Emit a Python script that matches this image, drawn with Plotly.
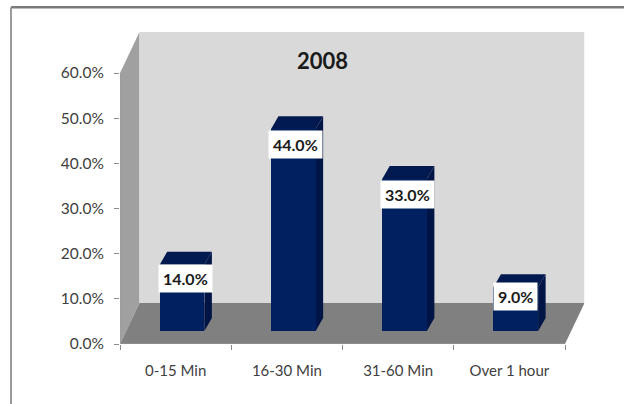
import plotly.graph_objects as go

categories = ["0-15 Min", "16-30 Min", "31-60 Min", "Over 1 hour"]
values = [14.0, 44.0, 33.0, 9.0]
y_ticks = [0, 10, 20, 30, 40, 50, 60]
title_text = "2008"

W, H = 624, 404
AX_L, AX_R, AX_B, AX_T = 120, 565, 344, 73
N = len(categories)
PX_X = (AX_R - AX_L) / N      # pixels per category
PX_Y = (AX_B - AX_T) / 60     # pixels per percent unit
# 3D illusion, in axis units
DEPTH_X = 19.5 / PX_X
DEPTH_Y = 41 / PX_Y
BASE = 13 / PX_Y
TOP_LIFT = 3 / PX_Y
BAR_W = 44.7 / PX_X
BAR_SHIFT = 6.4 / PX_X
SIDE_X = 7.5 / PX_X
SIDE_Y = 13 / PX_Y
XMAX = N + DEPTH_X
YMAX = 60 + DEPTH_Y
LABEL_DX = [3, 2, 3, 0]       # pixel nudges of the value labels
LABEL_DY = [13.5, 15.5, 16, 9]


def poly(pts, color):
    path = "M" + "L".join(f"{x},{y}" for x, y in pts) + "Z"
    return dict(type="path", path=path, fillcolor=color, line=dict(width=0),
                xref="x", yref="y", layer="below")


shapes = []
# left wall, back wall, floor
shapes.append(poly([(0, 0), (DEPTH_X, DEPTH_Y), (DEPTH_X, YMAX), (0, 60)], "#a0a0a0"))
shapes.append(poly([(DEPTH_X, DEPTH_Y), (XMAX, DEPTH_Y), (XMAX, YMAX), (DEPTH_X, YMAX)], "#d9d9d9"))
shapes.append(poly([(0, 0), (N, 0), (XMAX, DEPTH_Y), (DEPTH_X, DEPTH_Y)], "#808080"))

xc = [i + 0.5 + BAR_SHIFT for i in range(N)]
tops = [v + TOP_LIFT for v in values]
# bar sides and tops
for c, t in zip(xc, tops):
    l, r, t = c - BAR_W / 2, c + BAR_W / 2, BASE + t
    shapes.append(poly([(r, BASE), (r + SIDE_X, BASE + SIDE_Y), (r + SIDE_X, t + SIDE_Y), (r, t)], "#001545"))
    shapes.append(poly([(l, t), (r, t), (r + SIDE_X, t + SIDE_Y), (l + SIDE_X, t + SIDE_Y)], "#001a50"))

# axis line along the front edge of the floor, and the outer frame
shapes.append(dict(type="line", xref="x", yref="y", x0=0, x1=N, y0=0, y1=0,
                   line=dict(color="#9a9a9a", width=1), layer="above"))
shapes.append(dict(type="line", xref="x", yref="y", x0=0, x1=0, y0=0, y1=60,
                   line=dict(color="#9a9a9a", width=1), layer="above"))
shapes.append(dict(type="line", xref="paper", yref="paper", x0=11 / W, x1=1, y0=1 - 7.3 / H, y1=1 - 7.3 / H,
                   line=dict(color="#7a7a7a", width=2.5)))
shapes.append(dict(type="line", xref="paper", yref="paper", x0=11 / W, x1=11 / W, y0=0, y1=1 - 7.3 / H,
                   line=dict(color="#9a9a9a", width=2)))

fig = go.Figure()
fig.add_trace(go.Bar(x=xc, y=tops, base=BASE, width=BAR_W, marker=dict(color="#002060", line=dict(width=0)),
                     hoverinfo="skip", showlegend=False))

annotations = []
for c, v, t, dx, dy in zip(xc, values, tops, LABEL_DX, LABEL_DY):
    annotations.append(dict(x=c + dx / PX_X, y=BASE + t - dy / PX_Y, xref="x", yref="y",
                            text=f"<b>{v:.1f}%</b>", showarrow=False,
                            font=dict(family="Lato", size=16, color="#1a1a1a"), bgcolor="#ffffff",
                            borderpad=4, xanchor="center", yanchor="middle"))
annotations.append(dict(x=322 / W, y=1 - 60 / H, xref="paper", yref="paper",
                        text=f"<b>{title_text}</b>", showarrow=False,
                        font=dict(family="Lato", size=22, color="#1a1a1a"), xanchor="center", yanchor="middle"))

fig.update_layout(
    width=W, height=H, autosize=False, margin=dict(l=0, r=0, t=0, b=0),
    paper_bgcolor="#ffffff", plot_bgcolor="rgba(0,0,0,0)",
    shapes=shapes, annotations=annotations, showlegend=False, bargap=0,
    xaxis=dict(domain=[AX_L / W, (AX_L + XMAX * PX_X) / W], range=[0, XMAX], tickmode="array", automargin=False,
               tickvals=[i + 0.5 for i in range(N)], ticktext=categories, ticks="", ticklen=0,
               ticklabelstandoff=16, showgrid=False, zeroline=False, showline=False,
               tickfont=dict(family="Lato", size=15, color="#404040"),
               minor=dict(tickmode="array", tickvals=list(range(N + 1)), ticks="outside", ticklen=5,
                          tickcolor="#8c8c8c", showgrid=False)),
    yaxis=dict(domain=[(H - AX_B) / H, (H - AX_B + YMAX * PX_Y) / H], range=[0, YMAX], tickmode="array", automargin=False,
               tickvals=y_ticks, ticktext=[f"{t:.1f}%" for t in y_ticks], ticks="outside", ticklen=5,
               ticklabelstandoff=7, tickcolor="#8c8c8c", showgrid=False, zeroline=False, showline=False,
               tickfont=dict(family="Lato", size=15.5, color="#404040")),
)
fig.write_html("out.html", config={"displayModeBar": False},
               post_script="document.body.style.margin='0';document.documentElement.style.overflow='hidden';")
